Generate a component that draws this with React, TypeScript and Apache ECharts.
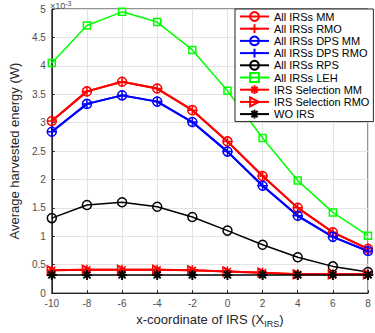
import React, { useEffect, useRef } from "react";
import * as echarts from "echarts";

// IRS x-coordinates
const xCoords = [-10, -8, -6, -4, -2, 0, 2, 4, 6, 8];

// Average harvested energy, in units of 1e-3 W
const allIrsMM = [3.03, 3.55, 3.72, 3.6, 3.22, 2.67, 2.06, 1.5, 1.07, 0.78];
const allIrsRMO = [3.03, 3.55, 3.72, 3.6, 3.22, 2.67, 2.06, 1.5, 1.07, 0.78];
const allIrsDpsMM = [2.84, 3.33, 3.48, 3.37, 3.01, 2.49, 1.89, 1.36, 0.99, 0.74];
const allIrsDpsRMO = [2.84, 3.33, 3.48, 3.37, 3.01, 2.49, 1.89, 1.36, 0.99, 0.74];
const allIrsRPS = [1.32, 1.55, 1.6, 1.52, 1.34, 1.1, 0.85, 0.63, 0.47, 0.37];
const allIrsLEH = [4.05, 4.71, 4.95, 4.77, 4.28, 3.56, 2.73, 1.98, 1.42, 1.01];
const irsSelMM = [0.4, 0.41, 0.41, 0.41, 0.4, 0.38, 0.36, 0.33, 0.33, 0.33];
const irsSelRMO = [0.4, 0.41, 0.41, 0.41, 0.4, 0.38, 0.36, 0.33, 0.33, 0.33];
const woIrs = [0.32, 0.32, 0.32, 0.32, 0.32, 0.32, 0.32, 0.32, 0.32, 0.32];

const yMin = 0;
const yMax = 5;
const yStep = 0.5;
const xMin = -10;
const xMax = 8;
const xStep = 2;

const FONT = "'Liberation Sans', Arial, Helvetica, sans-serif";
const RED = "#ff0000";
const BLUE = "#0000ff";
const BLACK = "#000000";
const GREEN = "#00ff00";

const PLUS = "path://M5 0V10M0 5H10";
const ASTERISK = "path://M5 0V10M0 5H10M1.5 1.5L8.5 8.5M8.5 1.5L1.5 8.5";
const TRI_RIGHT = "path://M0 0L10 5L0 10Z";

function pairs(vals: number[]) {
  return xCoords.map((x, i) => [x, vals[i]]);
}

function makeSeries(
  name: string,
  vals: number[],
  color: string,
  symbol: string,
  symbolSize: number,
  lineWidth: number,
  markerWidth: number
) {
  return {
    name,
    type: "line",
    data: pairs(vals),
    symbol,
    symbolSize,
    showAllSymbol: true,
    lineStyle: { color, width: lineWidth },
    itemStyle: { color: "rgba(0,0,0,0)", borderColor: color, borderWidth: markerWidth },
    emphasis: { disabled: true },
    z: 2,
  };
}

export default function App() {
  const ref = useRef<HTMLDivElement>(null);

  useEffect(() => {
    if (!ref.current) return;
    const chart = echarts.init(ref.current, null, { renderer: "svg" });

    const series = [
      makeSeries("All IRSs MM", allIrsMM, RED, "circle", 9, 2, 1.5),
      makeSeries("All IRSs RMO", allIrsRMO, RED, PLUS, 10, 2, 1.5),
      makeSeries("All IRSs DPS MM", allIrsDpsMM, BLUE, "circle", 9, 2, 1.5),
      makeSeries("All IRSs DPS RMO", allIrsDpsRMO, BLUE, PLUS, 10, 2, 1.5),
      makeSeries("All IRSs RPS", allIrsRPS, BLACK, "circle", 9, 1.5, 1.5),
      makeSeries("All IRSs LEH", allIrsLEH, GREEN, "rect", 7, 1.5, 1.5),
      makeSeries("IRS Selection MM", irsSelMM, RED, ASTERISK, 10, 2, 1.5),
      makeSeries("IRS Selection RMO", irsSelRMO, RED, TRI_RIGHT, 9, 2, 1.5),
      makeSeries("WO IRS", woIrs, BLACK, ASTERISK, 10, 1.5, 2),
    ];

    chart.setOption({
      animation: false,
      backgroundColor: "#ffffff",
      textStyle: { fontFamily: FONT },
      grid: {
        left: 50,
        right: 7,
        top: 9,
        bottom: 34,
        show: true,
        borderColor: "#262626",
        borderWidth: 1,
        backgroundColor: "#ffffff",
      },
      xAxis: {
        type: "value",
        min: xMin,
        max: xMax,
        interval: xStep,
        name: "x-coordinate of IRS (X{sub|IRS})",
        nameLocation: "middle",
        nameGap: 13,
        nameTextStyle: {
          fontFamily: FONT,
          fontSize: 13,
          color: "#262626",
          verticalAlign: "top",
          rich: {
            sub: { fontFamily: FONT, fontSize: 9, color: "#262626", padding: [8, 0, 0, 0] },
          },
        },
        axisLine: { show: true, onZero: false, lineStyle: { color: "#262626", width: 1 } },
        axisTick: { show: true, inside: true, length: 3, lineStyle: { color: "#262626" } },
        axisLabel: { fontFamily: FONT, fontSize: 10, color: "#4d4d4d", margin: 5 },
        splitLine: { show: true, lineStyle: { color: "#e3e3e3", width: 1 } },
      },
      yAxis: {
        type: "value",
        min: yMin,
        max: yMax,
        interval: yStep,
        name: "Average harvested energy (W)",
        nameLocation: "middle",
        nameGap: 6,
        nameTextStyle: { fontFamily: FONT, fontSize: 13, color: "#262626" },
        axisLine: { show: true, onZero: false, lineStyle: { color: "#262626", width: 1 } },
        axisTick: { show: true, inside: true, length: 3, lineStyle: { color: "#262626" } },
        axisLabel: {
          fontFamily: FONT,
          fontSize: 10,
          color: "#4d4d4d",
          margin: 6,
          formatter: (v: number) => String(Math.round(v * 10) / 10),
        },
        splitLine: { show: true, lineStyle: { color: "#e3e3e3", width: 1 } },
      },
      legend: {
        orient: "vertical",
        left: 235,
        top: 9,
        padding: [2, 4, 2, 4],
        itemWidth: 29,
        itemHeight: 11,
        itemGap: 1.2,
        itemTextGap: 3,
        backgroundColor: "#ffffff",
        borderColor: "#262626",
        borderWidth: 1,
        textStyle: { fontFamily: FONT, fontSize: 11, color: "#000000" },
        selectedMode: false,
        data: series.map((s) => s.name),
      },
      graphic: [
        {
          type: "text",
          left: 50,
          top: 0,
          style: {
            text: "×10{sup|-3}",
            fontFamily: FONT,
            fontSize: 9,
            fill: "#4d4d4d",
            rich: {
              sup: { fontFamily: FONT, fontSize: 7, fill: "#4d4d4d", padding: [0, 0, 4, 0] },
            },
          },
        },
      ],
      series,
    });

    return () => chart.dispose();
  }, []);

  return (
    <div
      ref={ref}
      style={{ position: "fixed", left: 0, top: 0, width: 375, height: 333 }}
    />
  );
}
